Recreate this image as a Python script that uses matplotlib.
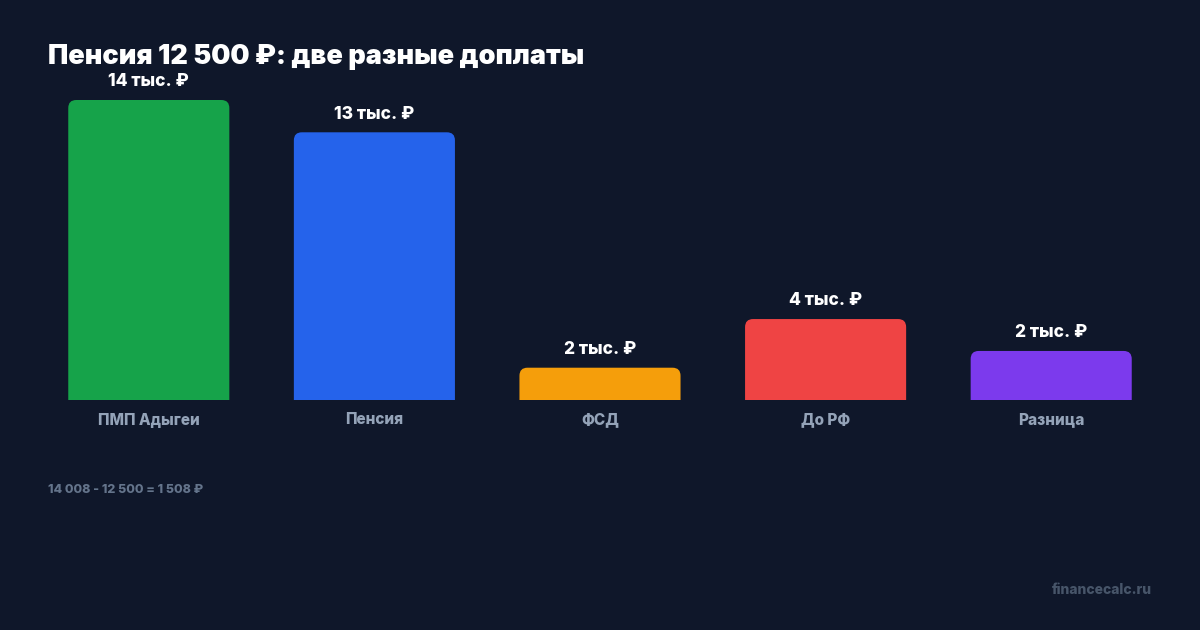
import matplotlib.pyplot as plt
from matplotlib.patches import FancyBboxPatch

plt.rcParams['font.family'] = ['Inter', 'DejaVu Sans']

categories = ["ПМП Адыгеи", "Пенсия", "ФСД", "До РФ", "Разница"]
values = [14008, 12500, 1508, 3780, 2290]
value_labels = ["14 тыс. ₽", "13 тыс. ₽", "2 тыс. ₽", "4 тыс. ₽", "2 тыс. ₽"]
colors = ["#16a34a", "#2563eb", "#f59e0b", "#ef4444", "#7c3aed"]

title = "Пенсия 12 500 ₽: две разные доплаты"
note = "14 008 - 12 500 = 1 508 ₽"
site = "financecalc.ru"

bg = "#0f172a"
W, H = 1200, 630

fig = plt.figure(figsize=(12, 6.3), dpi=100, facecolor=bg)
# axes: baseline at y=400px, tallest bar top at y=100px
ax = fig.add_axes([36 / W, (H - 400) / H, (1164 - 36) / W, 300 / H])
ax.set_facecolor(bg)

x = list(range(len(categories)))
width = 0.714
ax.set_xlim(-0.5, len(categories) - 0.5)
ax.set_ylim(0, max(values))

bars = ax.bar(x, values, width=width, color=colors)

# replace plain bars with rounded-top ones
px_x = (1164 - 36) / len(categories)      # pixels per x unit
px_y = 300 / max(values)                   # pixels per y unit
r = 8
for b, c in zip(bars, colors):
    b.set_visible(False)
    p = FancyBboxPatch((b.get_x(), -r / px_y), b.get_width(), b.get_height() + r / px_y,
                       boxstyle=f"round,pad=0,rounding_size={r / px_x}",
                       mutation_aspect=px_x / px_y,
                       facecolor=c, edgecolor="none", clip_on=True)
    ax.add_patch(p)

for xi, v, lab in zip(x, values, value_labels):
    ax.annotate(lab, (xi, v), xytext=(0, 13), textcoords="offset points",
                ha="center", va="center", color="white", fontsize=12.5,
                fontweight="heavy", annotation_clip=False)

ax.set_xticks(x)
ax.set_xticklabels(categories, color="#94a3b8", fontsize=11, fontweight="heavy")
ax.tick_params(axis="x", length=0, pad=9)
ax.set_yticks([])
for s in ax.spines.values():
    s.set_visible(False)

fig.text(48 / W, 1 - 57 / H, title, color="white", fontsize=19.5,
         fontweight="black", ha="left", va="center")
fig.text(48 / W, 1 - 490 / H, note, color="#64748b", fontsize=9,
         fontweight="heavy", ha="left", va="center")
fig.text(1152 / W, 1 - 590 / H, site, color="#475569", fontsize=10,
         fontweight="heavy", ha="right", va="center")

fig.savefig("out.png", dpi=100, facecolor=bg)
